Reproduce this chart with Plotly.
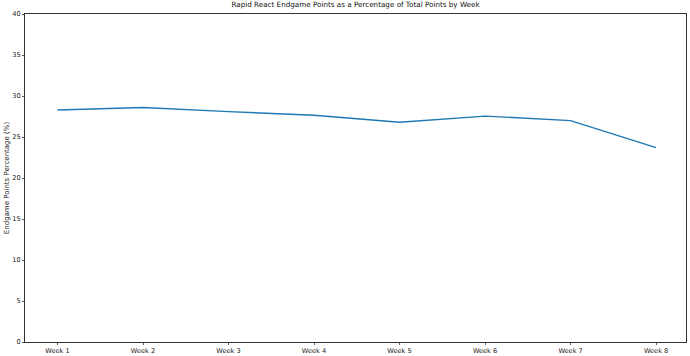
import plotly.graph_objects as go

weeks = ["Week 1", "Week 2", "Week 3", "Week 4", "Week 5", "Week 6", "Week 7", "Week 8"]
endgame_pct = [28.3, 28.6, 28.1, 27.65, 26.8, 27.55, 27.0, 23.7]
y_ticks = [0, 5, 10, 15, 20, 25, 30, 35, 40]

x_idx = list(range(len(weeks)))

fig = go.Figure(go.Scatter(
    x=x_idx, y=endgame_pct, mode="lines",
    line=dict(color="#1f77b4", width=1.4),
    hoverinfo="skip",
))

axis_common = dict(
    showgrid=False, zeroline=False, showline=True, linecolor="#333", linewidth=1,
    mirror=True, ticks="outside", ticklen=2, tickcolor="#333", tickwidth=0.8,
    tickfont=dict(family="DejaVu Sans", size=6.6, color="#222"),
    automargin=False,
)

fig.update_layout(
    width=690, height=356,
    margin=dict(l=25, r=4, t=14, b=14),
    paper_bgcolor="white", plot_bgcolor="white",
    showlegend=False,
    title=dict(text="Rapid React Endgame Points as a Percentage of Total Points by Week",
               x=0.5, xanchor="center", y=0.995, yanchor="top", xref="paper",
               font=dict(family="DejaVu Sans", size=7.2, color="#111")),
    xaxis=dict(range=[-0.38, 7.35], tickmode="array", tickvals=x_idx, ticktext=weeks, **axis_common),
    yaxis=dict(range=[0, 40], tickmode="array", tickvals=y_ticks, ticktext=[str(v) for v in y_ticks],
               title=dict(text="Endgame Points Percentage (%)", standoff=1,
                          font=dict(family="DejaVu Sans", size=7, color="#222")),
               **axis_common),
)

fig.write_html("out.html", config={"displayModeBar": False, "staticPlot": True},
               post_script="document.body.style.margin='0';document.body.style.overflow='hidden';")
